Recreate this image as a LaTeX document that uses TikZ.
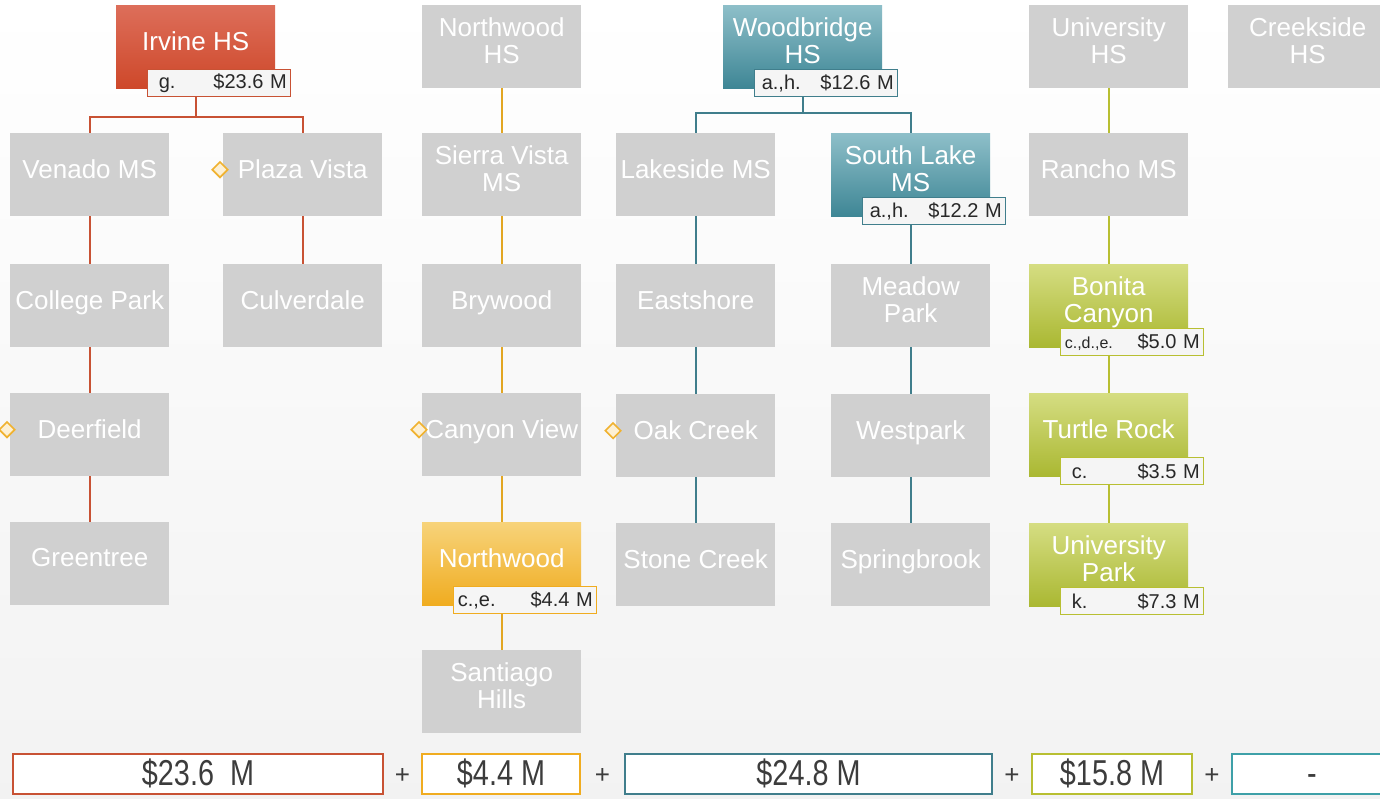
\documentclass[tikz,border=0pt]{standalone}
\usepackage{fontspec}
\setmainfont{Liberation Sans}
\usetikzlibrary{calc,shapes.geometric}

\definecolor{boxgray}{RGB}{208,208,208}
\definecolor{irvtop}{RGB}{221,110,90}
\definecolor{irvbot}{RGB}{206,72,42}
\definecolor{irvline}{RGB}{200,82,52}
\definecolor{nwtop}{RGB}{247,211,122}
\definecolor{nwbot}{RGB}{240,172,32}
\definecolor{nwline}{RGB}{226,166,34}
\definecolor{wbtop}{RGB}{142,191,201}
\definecolor{wbbot}{RGB}{62,134,149}
\definecolor{wbline}{RGB}{64,126,140}
\definecolor{untop}{RGB}{213,221,130}
\definecolor{unbot}{RGB}{170,184,50}
\definecolor{unline}{RGB}{184,191,50}
\definecolor{ckline}{RGB}{62,160,168}
\definecolor{tagtext}{RGB}{40,40,40}
\definecolor{totaltext}{RGB}{60,60,60}
\definecolor{flagorange}{RGB}{240,178,48}
\definecolor{flagfill}{RGB}{253,240,212}

\tikzset{
  school/.style={anchor=north west, minimum width=159pt, minimum height=83pt,
    inner sep=0pt, fill=boxgray, text=white, align=center, text depth=12pt,
    font=\fontsize{26}{27}\selectfont},
  tag/.style={anchor=south east, draw=#1, fill=black!4, line width=1.2pt,
    inner xsep=4pt, inner ysep=0pt, text width=135pt, minimum height=27pt,
    text=tagtext, font=\fontsize{20}{22}\selectfont},
  link/.style={draw=#1, line width=2pt},
  flag/.style={diamond, draw=flagorange, fill=flagfill, line width=1.6pt,
    minimum width=16pt, minimum height=16pt, inner sep=0pt},
  total/.style={anchor=north west, draw=#1, fill=white, line width=2pt,
    minimum height=40pt, inner sep=0pt, text=totaltext, text depth=3pt},
  plus/.style={text=totaltext, font=\fontsize{26}{26}\selectfont}
}

\newcommand{\bigsum}[1]{\scalebox{0.8}[1]{\fontsize{36}{38}\selectfont\vphantom{\$4}#1}}

\begin{document}
\begin{tikzpicture}[x=1pt, y=-1pt]

\useasboundingbox (0,0) rectangle (1380,798);
\shade[top color=white, middle color=white, bottom color=black!5] (0,0) rectangle (1380,798);

% schools without a project
\foreach \name/\x/\y/\txt in {venado/10/133/Venado MS, plaza/223/133/Plaza Vista,
  college/10/264/College Park, culverdale/223/264/Culverdale,
  deerfield/10/393/Deerfield, greentree/10/522/Greentree,
  nwhs/422/5/{Northwood\\HS}, sierra/422/133/{Sierra Vista\\MS},
  brywood/422/264/Brywood, canyon/422/393/Canyon View,
  santiago/422/650/{Santiago\\Hills},
  lakeside/616/133/Lakeside MS, eastshore/616/264/Eastshore,
  oakcreek/616/394/Oak Creek, stonecreek/616/523/Stone Creek,
  meadow/831/264/{Meadow\\Park}, westpark/831/394/Westpark,
  springbrook/831/523/Springbrook,
  unihs/1029/5/{University\\HS}, rancho/1029/133/Rancho MS,
  creekside/1228/5/{Creekside\\HS}}
  \node[school] (\name) at (\x,\y) {\txt};

% schools with a project
\node[school, top color=irvtop, bottom color=irvbot] (irvine) at (116,5) {Irvine HS};
\node[school, top color=nwtop, bottom color=nwbot] (northwood) at (422,522) {Northwood};
\node[school, top color=wbtop, bottom color=wbbot] (woodbridge) at (723,5) {Woodbridge\\HS};
\node[school, top color=wbtop, bottom color=wbbot] (southlake) at (831,133) {South Lake\\MS};
\node[school, top color=untop, bottom color=unbot] (bonita) at (1029,264) {Bonita\\Canyon};
\node[school, top color=untop, bottom color=unbot] (turtle) at (1029,393) {Turtle Rock};
\node[school, top color=untop, bottom color=unbot] (unipark) at (1029,523) {University\\Park};

% feeder lines
\coordinate (irvfork) at ($(irvine.south)+(0,29)$);
\draw[link=irvline] (irvine.south) -- (irvfork) -| (venado.north);
\draw[link=irvline] (irvfork) -| (plaza.north);
\foreach \a/\b in {venado/college, college/deerfield, deerfield/greentree, plaza/culverdale}
  \draw[link=irvline] (\a.south) -- (\b.north);

\foreach \a/\b in {nwhs/sierra, sierra/brywood, brywood/canyon, canyon/northwood, northwood/santiago}
  \draw[link=nwline] (\a.south) -- (\b.north);

\coordinate (wbfork) at ($(woodbridge.south)+(0,25)$);
\draw[link=wbline] (woodbridge.south) -- (wbfork) -| (lakeside.north);
\draw[link=wbline] (wbfork) -| (southlake.north);
\foreach \a/\b in {lakeside/eastshore, eastshore/oakcreek, oakcreek/stonecreek,
  southlake/meadow, meadow/westpark, westpark/springbrook}
  \draw[link=wbline] (\a.south) -- (\b.north);

\foreach \a/\b in {unihs/rancho, rancho/bonita, bonita/turtle, turtle/unipark}
  \draw[link=unline] (\a.south) -- (\b.north);

% project tags
\node[tag=irvline] (irvinetag) at ($(irvine.south east)+(16,9)$) {\hspace{7pt}g.\hfill\$23.6 M};
\node[tag=nwbot] (northwoodtag) at ($(northwood.south east)+(16,9)$) {c.,e.\hfill\$4.4 M};
\node[tag=wbline] (woodbridgetag) at ($(woodbridge.south east)+(16,9)$) {\hspace{3pt}a.,h.\hfill\$12.6 M};
\node[tag=wbline] (southlaketag) at ($(southlake.south east)+(16,9)$) {\hspace{3pt}a.,h.\hfill\$12.2 M};
\node[tag=unline] (bonitatag) at ($(bonita.south east)+(16,9)$) {{\fontsize{16}{18}\selectfont c.,d.,e.}\hfill\$5.0 M};
\node[tag=unline] (turtletag) at ($(turtle.south east)+(16,9)$) {\hspace{7pt}c.\hfill\$3.5 M};
\node[tag=unline] (uniparktag) at ($(unipark.south east)+(16,9)$) {\hspace{7pt}k.\hfill\$7.3 M};

% markers
\foreach \s in {plaza, deerfield, canyon, oakcreek}
  \node[flag] (\s flag) at ($(\s.west)+(-3,-5)$) {};

% totals
\node[total=irvline, minimum width=370pt] (irvsum) at (12,753) {\bigsum{\$23.6\ \ M}};
\node[total=nwbot, minimum width=158pt] (nwsum) at (421,753) {\bigsum{\$4.4 M}};
\node[total=wbline, minimum width=367pt] (wbsum) at (624,753) {\bigsum{\$24.8 M}};
\node[total=unline, minimum width=160pt] (unisum) at (1031,753) {\bigsum{\$15.8 M}};
\node[total=ckline, minimum width=160pt] (cksum) at (1231,753) {\bigsum{-}};

\node[plus] (plus1) at ($(irvsum.east)!0.5!(nwsum.west)+(0,2)$) {+};
\node[plus] (plus2) at ($(nwsum.east)!0.5!(wbsum.west)+(0,2)$) {+};
\node[plus] (plus3) at ($(wbsum.east)!0.5!(unisum.west)+(0,2)$) {+};
\node[plus] (plus4) at ($(unisum.east)!0.5!(cksum.west)+(0,2)$) {+};

\end{tikzpicture}
\end{document}
